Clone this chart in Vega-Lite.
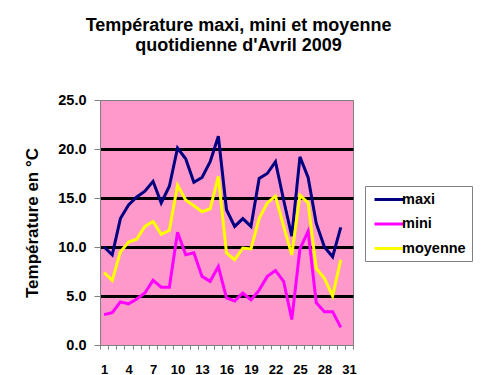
{
  "$schema": "https://vega.github.io/schema/vega-lite/v6.json",
  "width": 253,
  "height": 245,
  "autosize": {"type": "none"},
  "padding": {"left": 100, "top": 100, "right": 131, "bottom": 30},
  "background": "white",
  "title": {
    "text": ["Température maxi, mini et moyenne", "quotidienne d'Avril  2009"],
    "font": "Liberation Sans",
    "fontSize": 18,
    "fontWeight": "bold",
    "color": "black",
    "anchor": "middle",
    "frame": "group",
    "offset": 37,
    "lineHeight": 20,
    "dx": 12
  },
  "config": {
    "view": {"fill": "#FF99CC", "stroke": "#808080", "strokeWidth": 1},
    "axis": {
      "labelFont": "Liberation Sans",
      "labelFontWeight": "bold",
      "labelColor": "black",
      "titleFont": "Liberation Sans",
      "titleFontWeight": "bold",
      "titleColor": "black",
      "domainColor": "#808080",
      "tickColor": "#808080",
      "labelOverlap": false
    }
  },
  "data": {
    "values": [
      {"jour": 1, "maxi": 10.0, "mini": 3.1, "moyenne": 7.4},
      {"jour": 2, "maxi": 9.2, "mini": 3.3, "moyenne": 6.6},
      {"jour": 3, "maxi": 12.9, "mini": 4.4, "moyenne": 9.5},
      {"jour": 4, "maxi": 14.3, "mini": 4.2, "moyenne": 10.5},
      {"jour": 5, "maxi": 15.1, "mini": 4.7, "moyenne": 10.8},
      {"jour": 6, "maxi": 15.7, "mini": 5.3, "moyenne": 12.1},
      {"jour": 7, "maxi": 16.7, "mini": 6.6, "moyenne": 12.6},
      {"jour": 8, "maxi": 14.5, "mini": 5.9, "moyenne": 11.3},
      {"jour": 9, "maxi": 16.2, "mini": 5.9, "moyenne": 11.7},
      {"jour": 10, "maxi": 20.1, "mini": 11.5, "moyenne": 16.3},
      {"jour": 11, "maxi": 19.0, "mini": 9.2, "moyenne": 14.8},
      {"jour": 12, "maxi": 16.6, "mini": 9.4, "moyenne": 14.2},
      {"jour": 13, "maxi": 17.1, "mini": 7.0, "moyenne": 13.6},
      {"jour": 14, "maxi": 18.7, "mini": 6.5, "moyenne": 13.9},
      {"jour": 15, "maxi": 21.3, "mini": 8.0, "moyenne": 17.2},
      {"jour": 16, "maxi": 13.8, "mini": 4.8, "moyenne": 9.4},
      {"jour": 17, "maxi": 12.1, "mini": 4.5, "moyenne": 8.7},
      {"jour": 18, "maxi": 12.9, "mini": 5.3, "moyenne": 9.9},
      {"jour": 19, "maxi": 12.1, "mini": 4.6, "moyenne": 9.8},
      {"jour": 20, "maxi": 17.0, "mini": 5.6, "moyenne": 12.9},
      {"jour": 21, "maxi": 17.5, "mini": 7.0, "moyenne": 14.5},
      {"jour": 22, "maxi": 18.7, "mini": 7.6, "moyenne": 15.2},
      {"jour": 23, "maxi": 14.8, "mini": 6.5, "moyenne": 12.1},
      {"jour": 24, "maxi": 11.1, "mini": 2.6, "moyenne": 9.2},
      {"jour": 25, "maxi": 19.2, "mini": 9.8, "moyenne": 15.3},
      {"jour": 26, "maxi": 17.1, "mini": 11.6, "moyenne": 14.5},
      {"jour": 27, "maxi": 12.4, "mini": 4.3, "moyenne": 7.8},
      {"jour": 28, "maxi": 10.0, "mini": 3.4, "moyenne": 6.8},
      {"jour": 29, "maxi": 9.0, "mini": 3.4, "moyenne": 5.0},
      {"jour": 30, "maxi": 12.0, "mini": 1.8, "moyenne": 8.7}
    ]
  },
  "transform": [{"fold": ["maxi", "mini", "moyenne"], "as": ["serie", "valeur"]}],
  "layer": [
    {
      "mark": {"type": "line", "strokeWidth": 3},
      "encoding": {
        "x": {
          "field": "jour",
          "type": "quantitative",
          "scale": {"domain": [0.5, 31.5], "nice": false, "zero": false},
          "axis": {
            "orient": "bottom",
            "title": null,
            "grid": false,
            "values": [1, 4, 7, 10, 13, 16, 19, 22, 25, 28, 31],
            "labelOverlap": false,
            "labelFlush": false,
            "labelBound": false,
            "labelFontSize": 13,
            "ticks": false,
            "domain": false,
            "labelPadding": 18
          }
        },
        "y": {
          "field": "valeur",
          "type": "quantitative",
          "scale": {"domain": [0, 25], "nice": false},
          "axis": {
            "title": "Température en °C",
            "titleFontSize": 17,
            "titlePadding": 16,
            "values": [0, 5, 10, 15, 20, 25],
            "format": ".1f",
            "labelFontSize": 14.5,
            "tickSize": 6,
            "labelPadding": 8,
            "grid": true,
            "gridWidth": 3,
            "gridColor": {"condition": {"test": "datum.value == 0 || datum.value == 25", "value": "transparent"}, "value": "black"}
          }
        },
        "color": {
          "field": "serie",
          "type": "nominal",
          "scale": {"domain": ["maxi", "mini", "moyenne"], "range": ["#000080", "#FF00FF", "#FFFF00"]},
          "legend": {
            "title": null,
            "orient": "none",
            "legendX": 265,
            "legendY": 86,
            "strokeColor": "#808080",
            "fillColor": "white",
            "padding": 6,
            "symbolType": "M-2.5,0H2.5",
            "symbolSize": 144,
            "symbolStrokeWidth": 3,
            "symbolOffset": 11,
            "labelOffset": 5,
            "labelExpr": "datum.label + ' '",
            "labelFont": "Liberation Sans",
            "labelFontWeight": "bold",
            "labelFontSize": 14.5,
            "labelColor": "black",
            "rowPadding": 9.5
          }
        }
      }
    },
    {
      "mark": {"type": "rule", "opacity": 0},
      "encoding": {
        "x": {
          "field": "jour",
          "type": "quantitative",
          "scale": {"domain": [0.5, 31.5], "nice": false, "zero": false},
          "axis": {
            "orient": "bottom",
            "title": null,
            "grid": false,
            "labels": false,
            "values": [0.5, 1.5, 2.5, 3.5, 4.5, 5.5, 6.5, 7.5, 8.5, 9.5, 10.5, 11.5, 12.5, 13.5, 14.5, 15.5, 16.5, 17.5, 18.5, 19.5, 20.5, 21.5, 22.5, 23.5, 24.5, 25.5, 26.5, 27.5, 28.5, 29.5, 30.5, 31.5],
            "tickSize": 4
          }
        }
      }
    }
  ],
  "resolve": {"axis": {"x": "independent"}}
}
